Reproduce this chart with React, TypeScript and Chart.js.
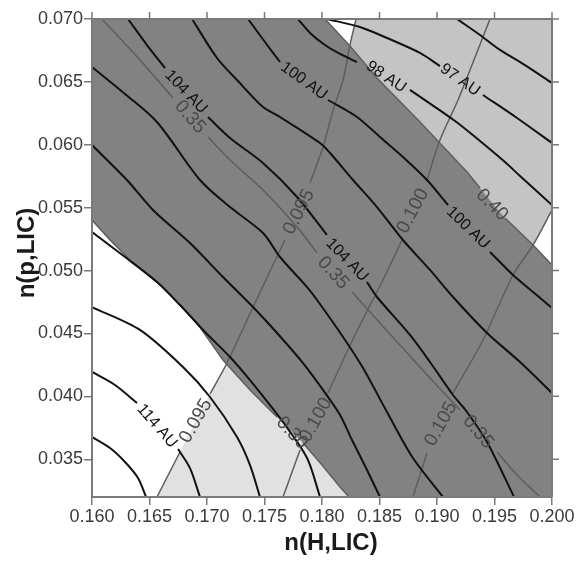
import React, { useEffect, useRef } from 'react';
import { Chart, registerables } from 'chart.js';

Chart.register(...registerables);

type Pt = [number, number];
type Line = Pt[][];

// ---- axes ----
const xTicks = [0.16, 0.165, 0.17, 0.175, 0.18, 0.185, 0.19, 0.195, 0.2];
const yTicks = [0.035, 0.04, 0.045, 0.05, 0.055, 0.06, 0.065, 0.07];
const xMin = 0.16, xMax = 0.2, yMin = 0.032, yMax = 0.07;

// ---- black contour lines (AU), segments split at their labels ----
const au96: Line = [[[0.19174, 0.07], [0.19374, 0.06873], [0.19548, 0.06754], [0.19765, 0.06634], [0.2, 0.06491]]];
const au97: Line = [
  [[0.18043, 0.07], [0.1833, 0.06936], [0.18565, 0.06849], [0.18852, 0.0673], [0.19026, 0.06626]],
  [[0.194, 0.06396], [0.19696, 0.06213], [0.2, 0.06014]],
];
const au98: Line = [
  [[0.17791, 0.07], [0.17896, 0.06889], [0.18026, 0.06793], [0.18157, 0.06722], [0.18304, 0.06658]],
  [[0.18765, 0.06436], [0.19157, 0.06189], [0.19374, 0.0603], [0.19591, 0.05863], [0.19722, 0.05752], [0.2, 0.05521]],
];
const au100: Line = [
  [[0.17357, 0.07], [0.17504, 0.06817], [0.17635, 0.06658]],
  [[0.18052, 0.06356], [0.18304, 0.06221], [0.18504, 0.06062], [0.18704, 0.05903], [0.18913, 0.0572], [0.19096, 0.05521]],
  [[0.19461, 0.05148], [0.19661, 0.04965], [0.19835, 0.0483], [0.2, 0.04702]],
];
const au102: Line = [[
  [0.1687, 0.07], [0.17087, 0.0669], [0.17261, 0.06515], [0.17487, 0.063], [0.17635, 0.06221], [0.17983, 0.06014],
  [0.1807, 0.05935], [0.1827, 0.0572], [0.18478, 0.05505], [0.18704, 0.05243], [0.18939, 0.05005], [0.19139, 0.0479],
  [0.19435, 0.04504], [0.19722, 0.04273], [0.2, 0.04027],
]];
const au104: Line = [
  [[0.16313, 0.07], [0.16478, 0.06793], [0.16635, 0.0661]],
  [[0.17009, 0.06221], [0.172, 0.06054], [0.17487, 0.05855], [0.17783, 0.05585], [0.18043, 0.05283]],
  [[0.18391, 0.04909], [0.18478, 0.0479], [0.18765, 0.04488], [0.18939, 0.04273], [0.19139, 0.04011], [0.19261, 0.03876], [0.19435, 0.03637], [0.1967, 0.032]],
];
const au106: Line = [[
  [0.16, 0.06618], [0.16287, 0.06404], [0.16565, 0.06181], [0.16939, 0.0572], [0.172, 0.05505], [0.17487, 0.05299],
  [0.17635, 0.05108], [0.1787, 0.04869], [0.17957, 0.04766], [0.18183, 0.04472], [0.18357, 0.04225], [0.18565, 0.03876],
  [0.18791, 0.0351], [0.19052, 0.032],
]];
const au108: Line = [[
  [0.16, 0.05998], [0.16304, 0.0572], [0.1653, 0.05482], [0.16852, 0.05219], [0.17139, 0.04949], [0.174, 0.0471],
  [0.17609, 0.04504], [0.17835, 0.04265], [0.18009, 0.04051], [0.18157, 0.03852], [0.18261, 0.03653], [0.18383, 0.0343], [0.18504, 0.032],
]];
const au110: Line = [[
  [0.16, 0.05307], [0.16287, 0.05108], [0.16565, 0.04909], [0.16765, 0.04726], [0.16983, 0.04512], [0.172, 0.04313],
  [0.17374, 0.0413], [0.17548, 0.03931], [0.17661, 0.03796], [0.1787, 0.0351], [0.17983, 0.032],
]];
const au112: Line = [[[0.16, 0.0471], [0.16417, 0.04528], [0.16791, 0.04233], [0.17026, 0.03995], [0.17261, 0.03677], [0.17374, 0.03454], [0.17461, 0.032]]];
const au114: Line = [
  [[0.16, 0.04194], [0.162, 0.0409], [0.16391, 0.03947]],
  [[0.16748, 0.03581], [0.16852, 0.0343], [0.16939, 0.032]],
];
const au116: Line = [[[0.16, 0.03677], [0.16157, 0.03589], [0.16287, 0.03478], [0.164, 0.03351], [0.1647, 0.032]]];

// ---- grey contour lines (ratio 0.30 / 0.35 / 0.40) ----
const r030: Line = [
  [[0.16, 0.05402], [0.16157, 0.05243], [0.1633, 0.05084], [0.16617, 0.04869], [0.16913, 0.04583], [0.17139, 0.04289], [0.17374, 0.04051], [0.17609, 0.03836]],
  [[0.17835, 0.03629], [0.18, 0.03454], [0.18157, 0.03279], [0.18235, 0.032]],
];
const r035: Line = [
  [[0.16087, 0.07], [0.16417, 0.06674], [0.16704, 0.06372]],
  [[0.17009, 0.06062], [0.172, 0.05879], [0.17487, 0.05641], [0.17783, 0.05346], [0.17957, 0.0514]],
  [[0.18261, 0.0483], [0.18417, 0.04671], [0.18678, 0.04408], [0.18939, 0.04146], [0.192, 0.03892]],
  [[0.19522, 0.03558], [0.19696, 0.03375], [0.19896, 0.032]],
];
const r040: Line = [
  [[0.18026, 0.07], [0.18243, 0.06785], [0.18478, 0.06531], [0.18852, 0.06181], [0.19261, 0.05784], [0.19374, 0.05656]],
  [[0.19591, 0.05418], [0.19835, 0.05203], [0.2, 0.05044]],
];

// ---- grey contour lines (0.095 / 0.100 / 0.105) ----
const n095: Line = [
  [[0.18296, 0.07], [0.18243, 0.06793], [0.18183, 0.06515], [0.18096, 0.06277], [0.18009, 0.05982], [0.17896, 0.05696]],
  [[0.17678, 0.05243], [0.174, 0.0471], [0.17174, 0.04265], [0.17026, 0.04019]],
  [[0.16765, 0.03558], [0.16565, 0.032]],
];
const n100: Line = [
  [[0.19461, 0.07], [0.19287, 0.06595], [0.19183, 0.06356], [0.19026, 0.06038], [0.18913, 0.0572]],
  [[0.18696, 0.05243], [0.1853, 0.04925], [0.18287, 0.04488], [0.18052, 0.04027]],
  [[0.17809, 0.03574], [0.17661, 0.032]],
];
const n105: Line = [
  [[0.2, 0.05482], [0.19835, 0.05203], [0.19661, 0.04965], [0.194, 0.04448], [0.19139, 0.04027]],
  [[0.18913, 0.0355], [0.18791, 0.032]],
];

// ---- contour labels: text, anchor (data units), angle in degrees ----
const auLabels: { text: string; x: number; y: number; angle: number }[] = [
  { text: '97 AU', x: 0.192, y: 0.06515, angle: 35 },
  { text: '98 AU', x: 0.18557, y: 0.06539, angle: 34 },
  { text: '100 AU', x: 0.17843, y: 0.06507, angle: 36 },
  { text: '100 AU', x: 0.1927, y: 0.05339, angle: 44 },
  { text: '104 AU', x: 0.16817, y: 0.0642, angle: 46 },
  { text: '104 AU', x: 0.18217, y: 0.05084, angle: 46 },
  { text: '114 AU', x: 0.16565, y: 0.03764, angle: 49 },
];
const greyLabels: { text: string; x: number; y: number; angle: number }[] = [
  { text: '0.35', x: 0.16852, y: 0.06221, angle: 49 },
  { text: '0.35', x: 0.18096, y: 0.04981, angle: 48 },
  { text: '0.35', x: 0.19357, y: 0.03717, angle: 50 },
  { text: '0.40', x: 0.19478, y: 0.05521, angle: 45 },
  { text: '0.30', x: 0.17739, y: 0.03709, angle: 47 },
  { text: '0.095', x: 0.178, y: 0.05466, angle: -63 },
  { text: '0.095', x: 0.16904, y: 0.03804, angle: -60 },
  { text: '0.100', x: 0.18791, y: 0.05474, angle: -62 },
  { text: '0.100', x: 0.17948, y: 0.03812, angle: -61 },
  { text: '0.105', x: 0.19035, y: 0.0378, angle: -61 },
];

const FONT = '"Liberation Sans", Arial, Helvetica, sans-serif';
const AXIS = '#7a7a7a';

const flat = (l: Line): Pt[] => l.reduce((a: Pt[], s) => a.concat(s), []);

// shaded regions built from the contour arrays
const bandPoly: Pt[] = [[xMin, yMax], ...flat(r040), [xMax, yMin], ...flat(r030).slice().reverse()];
const topPoly: Pt[] = [n095[0][0], [xMax, yMax], n105[0][0], ...flat(r040).slice(1, 8).reverse()];
const bottomPoly: Pt[] = [n095[2][1], n095[2][0], n095[1][3], n095[1][2], ...flat(r030).slice(5)];

const toXY = (pts: Pt[]) => pts.map(([x, y]) => ({ x, y }));

function buildDatasets() {
  const ds: any[] = [];
  const poly = (pts: Pt[], color: string) =>
    ds.push({
      data: toXY(pts), backgroundColor: color, borderColor: 'rgba(0,0,0,0)', borderWidth: 0,
      fill: 'shape', tension: 0, pointRadius: 0, order: 3, clip: 0,
    });
  const line = (l: Line, color: string, width: number, order: number, tension = 0.3) =>
    l.forEach((seg) =>
      ds.push({
        data: toXY(seg), borderColor: color, borderWidth: width, fill: false, tension,
        pointRadius: 0, order, clip: 0,
      })
    );
  poly(bandPoly, '#828282');
  poly(topPoly, '#c4c4c4');
  poly(bottomPoly, '#e1e1e1');
  [r030, r040].forEach((l) => line(l, '#5e5e5e', 1.5, 2, 0));
  [r035, n095, n100, n105].forEach((l) => line(l, '#5e5e5e', 1.5, 2));
  [au96, au97, au98, au100, au102, au104, au106, au108, au110, au112, au114, au116].forEach((l) =>
    line(l, '#111111', 2, 1)
  );
  return ds;
}

const labelPlugin = {
  id: 'contourLabels',
  afterDatasetsDraw(chart: any) {
    const { ctx, scales } = chart;
    const draw = (arr: any[], font: string, color: string) => {
      arr.forEach((l) => {
        ctx.save();
        ctx.translate(scales.x.getPixelForValue(l.x), scales.y.getPixelForValue(l.y));
        ctx.rotate((l.angle * Math.PI) / 180);
        ctx.font = font;
        ctx.fillStyle = color;
        ctx.textAlign = 'center';
        ctx.textBaseline = 'middle';
        ctx.fillText(l.text, 0, 0);
        ctx.restore();
      });
    };
    draw(greyLabels, `19px ${FONT}`, '#4a4a4a');
    draw(auLabels, `16px ${FONT}`, '#111111');
  },
};

const framePlugin = {
  id: 'frame',
  afterDraw(chart: any) {
    const { ctx, chartArea: a, scales } = chart;
    ctx.save();
    ctx.strokeStyle = AXIS;
    ctx.lineWidth = 2;
    ctx.beginPath();
    ctx.moveTo(a.left, a.top);
    ctx.lineTo(a.right, a.top);
    ctx.lineTo(a.right, a.bottom);
    ctx.stroke();
    ctx.lineWidth = 1.5;
    ctx.beginPath();
    xTicks.forEach((v) => {
      const px = scales.x.getPixelForValue(v);
      ctx.moveTo(px, a.top);
      ctx.lineTo(px, a.top - 7);
    });
    yTicks.forEach((v) => {
      const py = scales.y.getPixelForValue(v);
      ctx.moveTo(a.right, py);
      ctx.lineTo(a.right + 7, py);
    });
    ctx.stroke();
    ctx.fillStyle = '#1a1a1a';
    ctx.font = `bold 24px ${FONT}`;
    ctx.textAlign = 'center';
    ctx.textBaseline = 'middle';
    ctx.fillText('n(H,LIC)', (a.left + a.right) / 2 + 9, a.bottom + 46);
    ctx.translate(27, (a.top + a.bottom) / 2 - 5);
    ctx.rotate(-Math.PI / 2);
    ctx.fillText('n(p,LIC)', 0, 0);
    ctx.restore();
  },
};

export default function App() {
  const ref = useRef<HTMLCanvasElement>(null);
  useEffect(() => {
    const tickFont = { size: 18, family: FONT };
    const chart = new Chart(ref.current as HTMLCanvasElement, {
      type: 'line',
      data: { datasets: buildDatasets() },
      options: {
        animation: false,
        responsive: false,
        devicePixelRatio: 1,
        events: [],
        layout: { padding: { top: 19, right: 27, left: 0, bottom: 0 } },
        plugins: { legend: { display: false }, tooltip: { enabled: false } },
        scales: {
          x: {
            type: 'linear', min: xMin, max: xMax,
            afterBuildTicks: (s: any) => { s.ticks = xTicks.map((v) => ({ value: v })); },
            afterFit: (s: any) => { s.height = 66; },
            ticks: { callback: (v: any) => Number(v).toFixed(3), font: tickFont, color: '#3a3a3a', padding: 1, maxRotation: 0, autoSkip: false },
            grid: { drawOnChartArea: false, drawTicks: true, tickLength: 8, color: AXIS, lineWidth: 1.5 },
            border: { display: true, color: AXIS, width: 2, z: 1 },
          },
          y: {
            type: 'linear', min: yMin, max: yMax,
            afterBuildTicks: (s: any) => { s.ticks = yTicks.map((v) => ({ value: v })); },
            afterFit: (s: any) => { s.width = 92; },
            ticks: { callback: (v: any) => Number(v).toFixed(3), font: tickFont, color: '#3a3a3a', padding: 1, autoSkip: false },
            grid: { drawOnChartArea: false, drawTicks: true, tickLength: 8, color: AXIS, lineWidth: 1.5 },
            border: { display: true, color: AXIS, width: 2, z: 1 },
          },
        },
      } as any,
      plugins: [labelPlugin, framePlugin],
    });
    return () => chart.destroy();
  }, []);
  return (
    <canvas
      ref={ref}
      width={579}
      height={563}
      style={{ position: 'absolute', left: 0, top: 0, width: 579, height: 563, background: '#fff' }}
    />
  );
}
